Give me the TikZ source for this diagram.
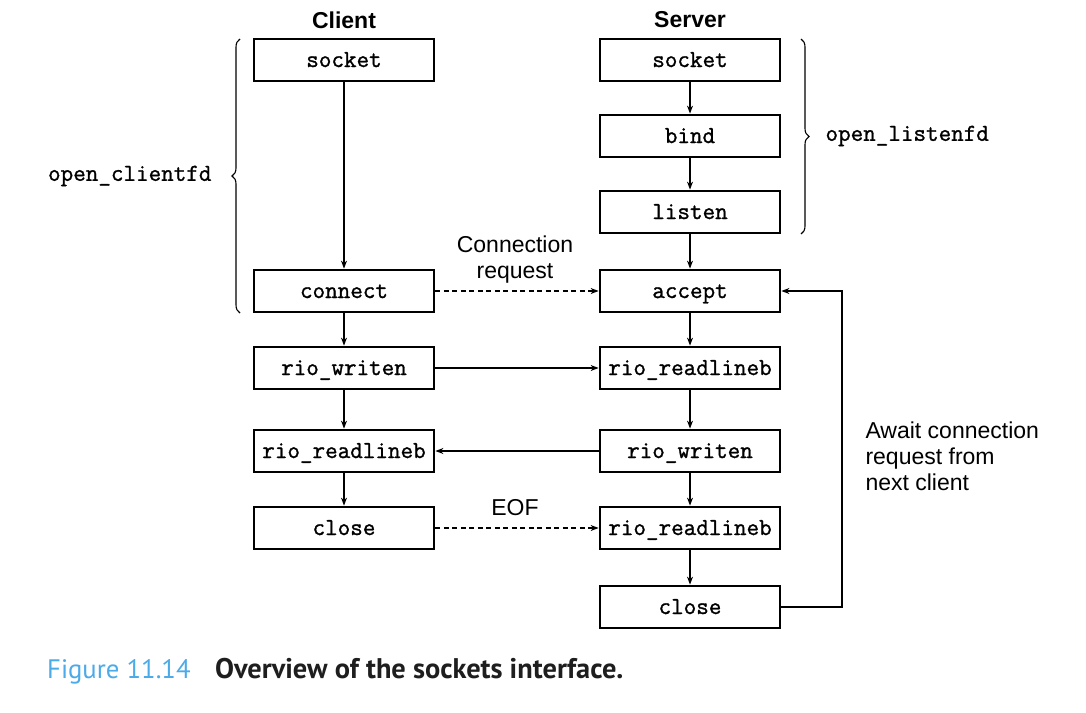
\documentclass[tikz,border=0pt]{standalone}
\usepackage{fontspec}
\setmainfont{Liberation Sans}
\setmonofont{Latin Modern Mono}[FakeBold=1.2]
\newfontfamily\capfont{PT Sans}
\usetikzlibrary{arrows.meta,decorations.pathreplacing}
\definecolor{figblue}{RGB}{75,170,232}
\definecolor{capblack}{RGB}{30,30,30}
\begin{document}
\begin{tikzpicture}[x=1pt,y=-1pt,
 fn/.style={draw,line width=2.8pt,minimum width=180pt,minimum height=42pt,inner sep=0pt,text height=19pt,text depth=5pt,font=\fontsize{24.4}{27}\selectfont\ttfamily},
 conn/.style={line width=1.1pt,-{Stealth[length=8pt,width=6pt]}},
 dconn/.style={conn,dash pattern=on 5pt off 3.5pt},
 lbl/.style={font=\fontsize{23}{26}\selectfont, align=center},
 hdr/.style={font=\fontsize{23}{26}\selectfont\bfseries},
 mono/.style={font=\fontsize{24.4}{27}\selectfont\ttfamily},
 brc/.style={decorate,decoration={brace,amplitude=8pt},line width=1.1pt},
 capt/.style={font=\fontsize{26.7}{30}\selectfont\capfont}]
\useasboundingbox (0,0) rectangle (1086,712);
% headers
\node[hdr] (ch) at (344,20) {Client};
\node[hdr] (sh) at (690,20) {Server};
% client
\node[fn] (csock) at (344,60) {socket};
\node[fn] (cconn) at (344,291) {connect};
\node[fn] (cwr) at (344,368) {rio\_writen};
\node[fn] (crd) at (344,451) {rio\_readlineb};
\node[fn] (ccl) at (344,528) {close};
% server
\node[fn] (ssock) at (690,60) {socket};
\node[fn] (sbind) at (690,136) {bind};
\node[fn] (slis) at (690,212) {listen};
\node[fn] (sacc) at (690,291) {accept};
\node[fn] (srd) at (690,368) {rio\_readlineb};
\node[fn] (swr) at (690,451) {rio\_writen};
\node[fn] (srd2) at (690,528) {rio\_readlineb};
\node[fn] (scl) at (690,607) {close};
% vertical arrows
\draw[conn] (csock) -- (cconn);
\draw[conn] (cconn) -- (cwr);
\draw[conn] (cwr) -- (crd);
\draw[conn] (crd) -- (ccl);
\draw[conn] (ssock) -- (sbind);
\draw[conn] (sbind) -- (slis);
\draw[conn] (slis) -- (sacc);
\draw[conn] (sacc) -- (srd);
\draw[conn] (srd) -- (swr);
\draw[conn] (swr) -- (srd2);
\draw[conn] (srd2) -- (scl);
% horizontal
\draw[dconn] (cconn) -- (sacc);
\draw[conn] (cwr) -- (srd);
\draw[conn] (swr) -- (crd);
\draw[dconn] (ccl) -- (srd2);
% feedback
\coordinate (fb) at (842,291);
\draw[conn] (scl.east) -| (fb) -- (sacc.east);
% labels
\node[lbl] (creq) at (515,260) {Connection\\request};
\node[lbl] (eof) at (515,508) {EOF};
\node[lbl,align=left,anchor=west] (await) at (862,456) {Await connection\\request from\\next client};
% braces
\draw[brc] (240,313) -- (240,39);
\draw[brc] (801,39) -- (801,234);
\node[mono,anchor=east] (ocl) at (215,176) {open\_clientfd};
\node[mono,anchor=west] (olis) at (822,136) {open\_listenfd};
% caption
\node[capt,anchor=base west,text=figblue,inner sep=0pt] (fig) at (47,678) {Figure 11.14};
\node[capt,anchor=base west,text=capblack,inner sep=0pt,font=\fontsize{28.4}{32}\selectfont\capfont\bfseries] (title) at (215,678) {Overview of the sockets interface.};
\end{tikzpicture}
\end{document}
